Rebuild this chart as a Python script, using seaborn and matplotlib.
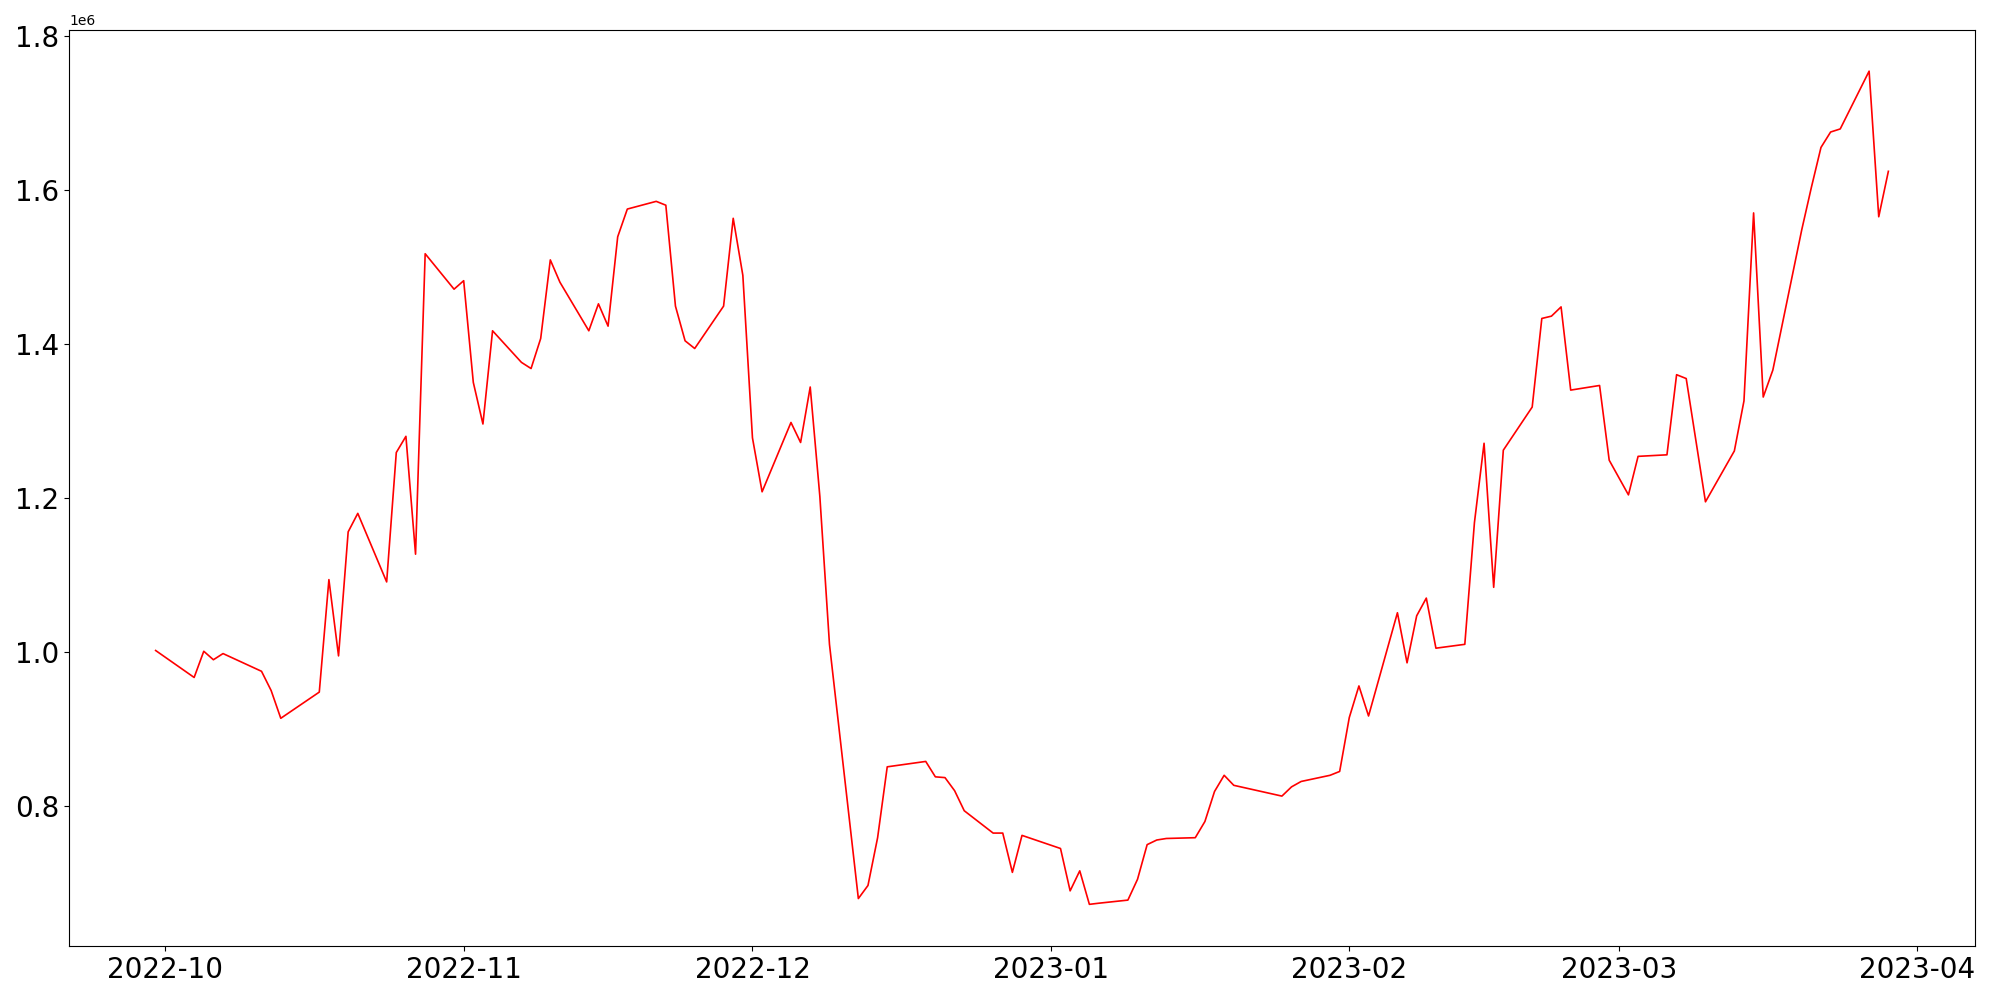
import pandas as pd
import matplotlib
matplotlib.use("Agg")
import matplotlib.pyplot as plt
import seaborn as sns

# ------------------------------------------------
# data
# ------------------------------------------------
dates = [
    "2022-09-30", "2022-10-04", "2022-10-05", "2022-10-06", "2022-10-07",
    "2022-10-11", "2022-10-12", "2022-10-13", "2022-10-17", "2022-10-18",
    "2022-10-19", "2022-10-20", "2022-10-21", "2022-10-24", "2022-10-25",
    "2022-10-26", "2022-10-27", "2022-10-28", "2022-10-31", "2022-11-01",
    "2022-11-02", "2022-11-03", "2022-11-04", "2022-11-07", "2022-11-08",
    "2022-11-09", "2022-11-10", "2022-11-11", "2022-11-14", "2022-11-15",
    "2022-11-16", "2022-11-17", "2022-11-18", "2022-11-21", "2022-11-22",
    "2022-11-23", "2022-11-24", "2022-11-25", "2022-11-28", "2022-11-29",
    "2022-11-30", "2022-12-01", "2022-12-02", "2022-12-05", "2022-12-06",
    "2022-12-07", "2022-12-08", "2022-12-09", "2022-12-12", "2022-12-13",
    "2022-12-14", "2022-12-15", "2022-12-19", "2022-12-20", "2022-12-21",
    "2022-12-22", "2022-12-23", "2022-12-26", "2022-12-27", "2022-12-28",
    "2022-12-29", "2023-01-02", "2023-01-03", "2023-01-04", "2023-01-05",
    "2023-01-06", "2023-01-09", "2023-01-10", "2023-01-11", "2023-01-12",
    "2023-01-13", "2023-01-16", "2023-01-17", "2023-01-18", "2023-01-19",
    "2023-01-20", "2023-01-25", "2023-01-26", "2023-01-27", "2023-01-30",
    "2023-01-31", "2023-02-01", "2023-02-02", "2023-02-03", "2023-02-06",
    "2023-02-07", "2023-02-08", "2023-02-09", "2023-02-10", "2023-02-13",
    "2023-02-14", "2023-02-15", "2023-02-16", "2023-02-17", "2023-02-20",
    "2023-02-21", "2023-02-22", "2023-02-23", "2023-02-24", "2023-02-27",
    "2023-02-28", "2023-03-02", "2023-03-03", "2023-03-06", "2023-03-07",
    "2023-03-08", "2023-03-10", "2023-03-13", "2023-03-14", "2023-03-15",
    "2023-03-16", "2023-03-17", "2023-03-20", "2023-03-21", "2023-03-22",
    "2023-03-23", "2023-03-24", "2023-03-27", "2023-03-28", "2023-03-29",
]

values = [
    1.002, 0.967, 1.001, 0.990, 0.998,
    0.975, 0.950, 0.914, 0.948, 1.094,
    0.995, 1.156, 1.180, 1.091, 1.259,
    1.280, 1.127, 1.517, 1.471, 1.482,
    1.350, 1.296, 1.417, 1.376, 1.368,
    1.407, 1.509, 1.480, 1.417, 1.452,
    1.423, 1.539, 1.575, 1.585, 1.580,
    1.449, 1.404, 1.394, 1.449, 1.563,
    1.489, 1.278, 1.208, 1.298, 1.272,
    1.344, 1.202, 1.010, 0.680, 0.697,
    0.759, 0.851, 0.858, 0.838, 0.837,
    0.820, 0.794, 0.765, 0.765, 0.714,
    0.762, 0.745, 0.690, 0.716, 0.6725,
    0.674, 0.678, 0.705, 0.750, 0.756,
    0.758, 0.759, 0.780, 0.819, 0.840,
    0.827, 0.813, 0.825, 0.832, 0.840,
    0.845, 0.915, 0.956, 0.917, 1.051,
    0.986, 1.047, 1.070, 1.005, 1.010,
    1.168, 1.271, 1.084, 1.262, 1.318,
    1.433, 1.436, 1.448, 1.340, 1.346,
    1.249, 1.204, 1.254, 1.256, 1.360,
    1.355, 1.195, 1.261, 1.326, 1.570,
    1.331, 1.366, 1.548, 1.603, 1.655,
    1.675, 1.679, 1.754, 1.565, 1.624,
]

df = pd.DataFrame({
    "Date": pd.to_datetime(dates),
    "Value": [v * 1e6 for v in values],
})

# ------------------------------------------------
# plot
# ------------------------------------------------
fig, ax = plt.subplots(figsize=(20, 10), dpi=100)
sns.lineplot(data=df, x="Date", y="Value", color="red", linewidth=1.2, ax=ax)

ax.set_xlabel("")
ax.set_ylabel("")
ax.tick_params(axis="both", labelsize=20)

fig.subplots_adjust(left=0.0345, right=0.9875, top=0.9705, bottom=0.054)
fig.savefig("out.png", dpi=100)
